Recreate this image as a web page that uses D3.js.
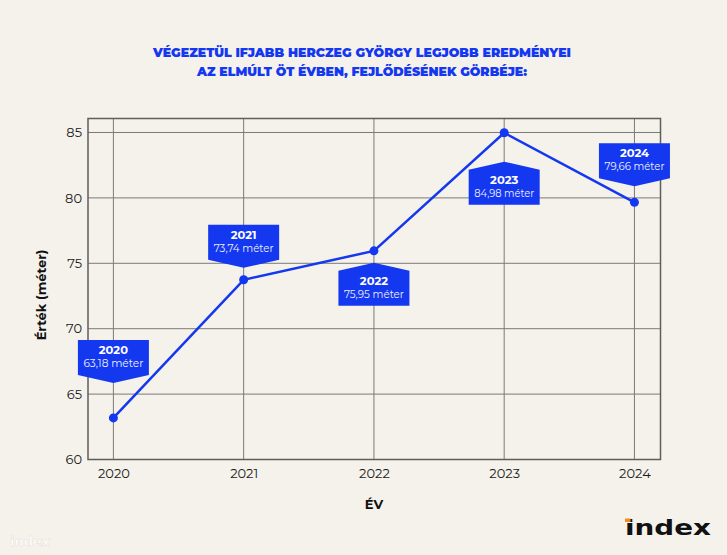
<!DOCTYPE html>
<html>
<head>
<meta charset="utf-8">
<script src="https://cdn.jsdelivr.net/npm/d3@7/dist/d3.min.js"></script>
<style>
html,body{margin:0;padding:0;background:#f5f2eb;}
svg{display:block;}
</style>
</head>
<body>
<svg id="chart" width="727" height="555"></svg>
<script>
const years = [2020, 2021, 2022, 2023, 2024];
const values = [63.18, 73.74, 75.95, 84.98, 79.66];
const valueLabels = ["63,18 méter", "73,74 méter", "75,95 méter", "84,98 méter", "79,66 méter"];
const labelSide = ["above", "above", "below", "below", "above"]; // callout position relative to point
const labelOffset = [35, 12, 12, 29, 16];
const yTicks = [60, 65, 70, 75, 80, 85];
const titleLines = ["VÉGEZETÜL IFJABB HERCZEG GYÖRGY LEGJOBB EREDMÉNYEI", "AZ ELMÚLT ÖT ÉVBEN, FEJLŐDÉSÉNEK GÖRBÉJE:"];

const W = 727, H = 555;
const blue = "#1437f0";
const font = "Montserrat, Inter, 'Open Sans', sans-serif";
const svg = d3.select("#chart");

svg.append("rect").attr("width", W).attr("height", H).attr("fill", "#f5f2eb");

const plot = {left: 88, right: 660.5, top: 118.5, bottom: 459.5};
const x = d3.scaleLinear().domain([2019.805, 2024.2]).range([plot.left, plot.right]);
const y = d3.scaleLinear().domain([60, 86.07]).range([plot.bottom, plot.top]);

// title
svg.append("g").selectAll("text").data(titleLines).join("text")
  .attr("x", 362).attr("y", (d, i) => 57 + i * 18.7)
  .attr("text-anchor", "middle")
  .attr("font-family", font).attr("font-weight", 900).attr("font-size", 13)
  .attr("fill", blue)
  .attr("textLength", (d, i) => i === 0 ? 418 : 330)
  .attr("lengthAdjust", "spacingAndGlyphs")
  .text(d => d);

// grid
const grid = svg.append("g");
grid.selectAll("line.h").data(yTicks).join("line")
  .attr("x1", plot.left).attr("x2", plot.right)
  .attr("y1", d => y(d)).attr("y2", d => y(d))
  .attr("stroke", "#7a7a7a").attr("stroke-width", 1);
grid.selectAll("line.v").data(years).join("line")
  .attr("y1", plot.top).attr("y2", plot.bottom)
  .attr("x1", d => x(d)).attr("x2", d => x(d))
  .attr("stroke", "#7a7a7a").attr("stroke-width", 1);

// border
svg.append("rect")
  .attr("x", plot.left).attr("y", plot.top)
  .attr("width", plot.right - plot.left).attr("height", plot.bottom - plot.top)
  .attr("fill", "none").attr("stroke", "#5e5e5e").attr("stroke-width", 1.5);

// axes
const yAxis = svg.append("g").attr("transform", `translate(${plot.left},0)`)
  .call(d3.axisLeft(y).tickValues(yTicks).tickSize(0).tickPadding(6));
const xAxis = svg.append("g").attr("transform", `translate(0,${plot.bottom})`)
  .call(d3.axisBottom(x).tickValues(years).tickFormat(d3.format("d")).tickSize(0).tickPadding(9));
[yAxis, xAxis].forEach(a => {
  a.select(".domain").remove();
  a.selectAll("text").attr("font-family", font).attr("font-size", 13).attr("fill", "#1a1a1a");
});

// axis titles
svg.append("text")
  .attr("transform", "translate(46,295) rotate(-90)")
  .attr("text-anchor", "middle")
  .attr("font-family", font).attr("font-weight", 700).attr("font-size", 13).attr("fill", "#111")
  .text("Érték (méter)");
svg.append("text")
  .attr("x", 374).attr("y", 509)
  .attr("text-anchor", "middle")
  .attr("font-family", font).attr("font-weight", 700).attr("font-size", 13).attr("fill", "#111")
  .text("ÉV");

// line
const data = years.map((yr, i) => ({year: yr, value: values[i], label: valueLabels[i], side: labelSide[i], off: labelOffset[i]}));
svg.append("path").datum(data)
  .attr("d", d3.line().x(d => x(d.year)).y(d => y(d.value)))
  .attr("fill", "none").attr("stroke", blue).attr("stroke-width", 2.5);
svg.append("g").selectAll("circle").data(data).join("circle")
  .attr("cx", d => x(d.year)).attr("cy", d => y(d.value)).attr("r", 4.5)
  .attr("fill", blue);

// callouts
const bw = 71, bh = 35, ah = 8;
const callouts = svg.append("g").selectAll("g").data(data).join("g")
  .attr("transform", d => {
    const px = x(d.year), py = y(d.value);
    const tipY = d.side === "above" ? py - d.off : py + d.off;
    return `translate(${px},${tipY})`;
  });
callouts.append("path")
  .attr("d", d => {
    const h = bw / 2;
    if (d.side === "above") {
      return `M0,0 L${-h},${-ah} L${-h},${-ah - bh} L${h},${-ah - bh} L${h},${-ah} Z`;
    } else {
      return `M0,0 L${h},${ah} L${h},${ah + bh} L${-h},${ah + bh} L${-h},${ah} Z`;
    }
  })
  .attr("fill", blue);
callouts.append("text")
  .attr("y", d => d.side === "above" ? -ah - bh + 14 : ah + 14)
  .attr("text-anchor", "middle")
  .attr("font-family", font).attr("font-weight", 700).attr("font-size", 11.5).attr("fill", "#fff")
  .text(d => d.year);
callouts.append("text")
  .attr("y", d => d.side === "above" ? -ah - bh + 27 : ah + 27)
  .attr("text-anchor", "middle")
  .attr("font-family", font).attr("font-weight", 400).attr("font-size", 11.5).attr("fill", "#eef0ff")
  .attr("textLength", 60).attr("lengthAdjust", "spacingAndGlyphs")
  .text(d => d.label);

// index logo
const logo = svg.append("g");
logo.append("text")
  .attr("x", 625).attr("y", 534.5)
  .attr("font-family", "'DejaVu Sans', sans-serif").attr("font-weight", 900).attr("font-size", 21)
  .attr("textLength", 86).attr("lengthAdjust", "spacingAndGlyphs")
  .attr("fill", "#111")
  .text("index");
logo.append("rect").attr("x", 625).attr("y", 518.5).attr("width", 5.5).attr("height", 3.5).attr("fill", "#f28c1e");

// faint watermark bottom-left
svg.append("text")
  .attr("x", 10).attr("y", 546)
  .attr("font-family", "'DejaVu Sans', sans-serif").attr("font-weight", 700).attr("font-size", 13)
  .attr("fill", "#ffffff").attr("stroke", "#e6e1d6").attr("stroke-width", 0.5)
  .text("index");
</script>
</body>
</html>
